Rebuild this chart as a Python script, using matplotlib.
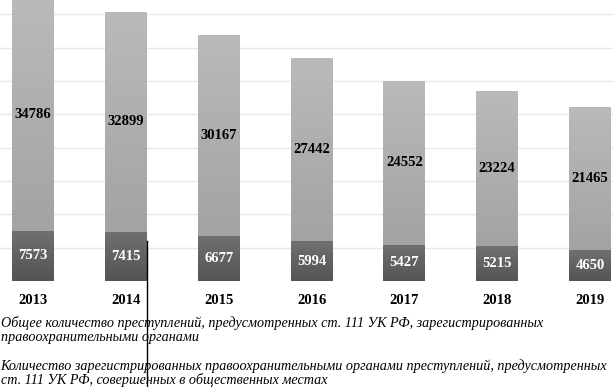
import numpy as np
import matplotlib.pyplot as plt
from matplotlib.lines import Line2D
from matplotlib.colors import LinearSegmentedColormap

# data
years = ['2013', '2014', '2015', '2016', '2017', '2018', '2019']
public_places = [7573, 7415, 6677, 5994, 5427, 5215, 4650]
total_rest = [34786, 32899, 30167, 27442, 24552, 23224, 21465]

legend_lines = [
    'Общее количество преступлений, предусмотренных ст. 111 УК РФ, зарегистрированных',
    'правоохранительными органами',
    'Количество зарегистрированных правоохранительными органами преступлений, предусмотренных',
    'ст. 111 УК РФ, совершенных в общественных местах',
]

plt.rcParams['font.family'] = ['Liberation Serif', 'DejaVu Serif']

fig = plt.figure(figsize=(6.13, 3.87), dpi=100)
ax = fig.add_axes([0, 1 - 281 / 387, 1, 281 / 387])

x = list(range(len(years)))
w = 0.45
dark = ax.bar(x, public_places, width=w, color='#626262', zorder=3)
light = ax.bar(x, total_rest, width=w, bottom=public_places, color='#aeaeae', zorder=3)

# vertical gradient fill of each bar
grad = np.linspace(1, 0, 256).reshape(-1, 1)
cm_light = LinearSegmentedColormap.from_list('l', ['#a3a3a3', '#bababa'])
cm_dark = LinearSegmentedColormap.from_list('d', ['#545454', '#707070'])
for bars, cm in ((light, cm_light), (dark, cm_dark)):
    for p in bars:
        x0, y0 = p.get_x(), p.get_y()
        im = ax.imshow(grad, cmap=cm, aspect='auto', zorder=3.5,
                       extent=[x0, x0 + p.get_width(), y0, y0 + p.get_height()])
        im.set_clip_path(p)

for i in x:
    ax.text(i, public_places[i] / 2, str(public_places[i]), ha='center', va='center',
            color='white', fontsize=10.5, fontweight='bold', zorder=4)
    ax.text(i, public_places[i] + total_rest[i] / 2, str(total_rest[i]), ha='center',
            va='center', color='black', fontsize=10.5, fontweight='bold', zorder=4)

ax.set_ylim(0, 42150)
ax.set_xlim(-33 / 92.8, 6 + 23 / 92.8)
ax.set_yticks(range(5000, 42000, 5000))
ax.yaxis.grid(True, color='#e8e8e8', lw=1, zorder=0)
ax.tick_params(left=False, labelleft=False, bottom=False)
ax.set_xticks(x)
ax.set_xticklabels(years, fontsize=10.5, fontweight='bold')
ax.tick_params(axis='x', pad=6)
for s in ax.spines.values():
    s.set_visible(False)

ys = [323, 337, 366, 380]
for t, y in zip(legend_lines, ys):
    fig.text(0.001, 1 - y / 387, t, ha='left', va='center', fontsize=10.2,
             style='italic')

fig.add_artist(Line2D([147 / 613, 147 / 613], [0, 1 - 241 / 387], color='black', lw=1))

fig.savefig('out.png', dpi=100)
